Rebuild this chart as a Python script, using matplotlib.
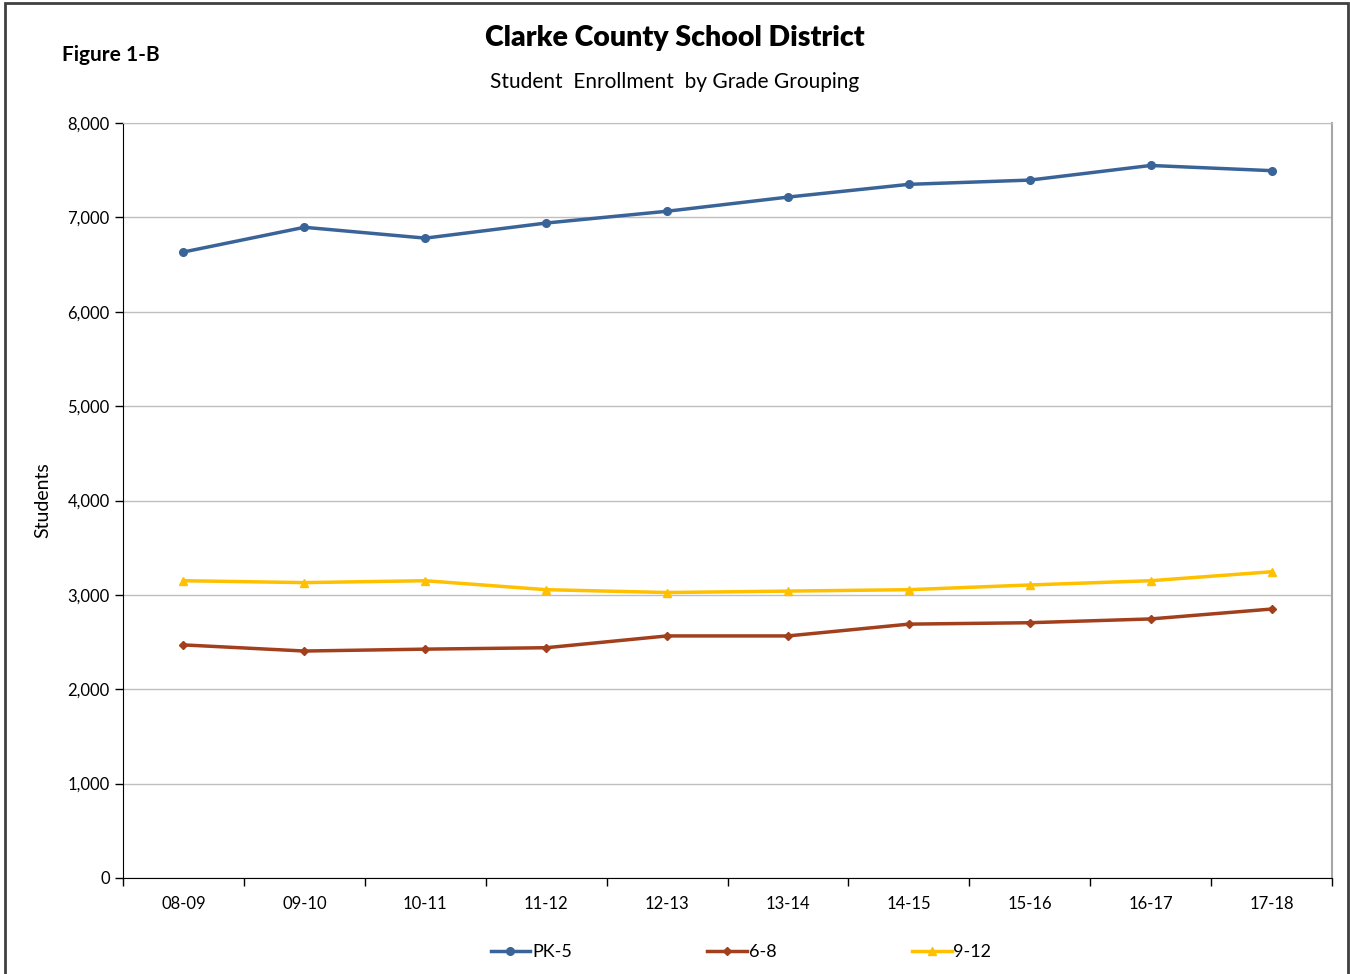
import numpy as np
import matplotlib.pyplot as plt
from matplotlib.ticker import FuncFormatter, FixedLocator

plt.rcParams['font.family'] = ['Lato', 'DejaVu Sans']

years = ['08-09', '09-10', '10-11', '11-12', '12-13',
         '13-14', '14-15', '15-16', '16-17', '17-18']
pk5 = [6633, 6895, 6780, 6940, 7065, 7215, 7350, 7395, 7550, 7495]
g6_8 = [2470, 2405, 2425, 2440, 2565, 2565, 2690, 2705, 2745, 2850]
g9_12 = [3150, 3130, 3150, 3055, 3025, 3040, 3055, 3105, 3150, 3245]

fig = plt.figure(figsize=(13.5, 9.74), dpi=100)
ax = fig.add_axes([123 / 1350, 1 - 878 / 974, 1209 / 1350, 755 / 974])

x = np.arange(len(years))
ax.plot(x, pk5, color='#3A6497', lw=2.5, marker='o', ms=5.5, label='PK-5')
ax.plot(x, g6_8, color='#A23F1C', lw=2.5, marker='D', ms=4.5, label='6-8')
ax.plot(x, g9_12, color='#FFC000', lw=2.5, marker='^', ms=6, label='9-12')

ax.set_xlim(-0.5, len(years) - 0.5)
ax.set_ylim(0, 8000)
ax.set_yticks(range(0, 8001, 1000))
ax.yaxis.set_major_formatter(FuncFormatter(lambda v, p: f'{int(v):,}'))
ax.yaxis.grid(True, color='#BFBFBF', lw=1)
ax.set_axisbelow(True)

ax.xaxis.set_major_locator(FixedLocator(np.arange(-0.5, len(years), 1)))
ax.xaxis.set_minor_locator(FixedLocator(x))
ax.set_xticklabels([], minor=False)
ax.set_xticklabels(years, minor=True)
ax.tick_params(axis='x', which='major', length=6, width=1, direction='out')
ax.tick_params(axis='x', which='minor', length=0, pad=13, labelsize=12)
ax.tick_params(axis='y', length=6, width=1, direction='out', labelsize=12)

ax.spines['left'].set_color('black')
ax.spines['bottom'].set_color('black')
ax.spines['top'].set_color('#BFBFBF')
ax.spines['right'].set_color('#A6A6A6')
ax.spines['right'].set_linewidth(1.5)

ax.set_ylabel('Students', fontsize=14, labelpad=12)

fig.text(0.5, 1 - 38 / 974, 'Clarke County School District', ha='center',
         va='center', fontsize=20.5, fontweight='heavy')
fig.text(0.5, 1 - 82 / 974, 'Student  Enrollment  by Grade Grouping',
         ha='center', va='center', fontsize=15)
fig.text(62 / 1350, 1 - 55 / 974, 'Figure 1-B', ha='left', va='center',
         fontsize=15, fontweight='bold')

fig.legend(loc='center', bbox_to_anchor=(741 / 1350, 1 - 952 / 974), ncol=3,
           frameon=False, fontsize=13, handlelength=2.2, handletextpad=0.1,
           columnspacing=7.5)

border = plt.Rectangle((5 / 1350, -0.01), 1343 / 1350, 1 - 3 / 974 + 0.01,
                       transform=fig.transFigure, fill=False,
                       edgecolor='#404040', lw=2)
fig.patches.append(border)

fig.savefig('out.png', dpi=100)
